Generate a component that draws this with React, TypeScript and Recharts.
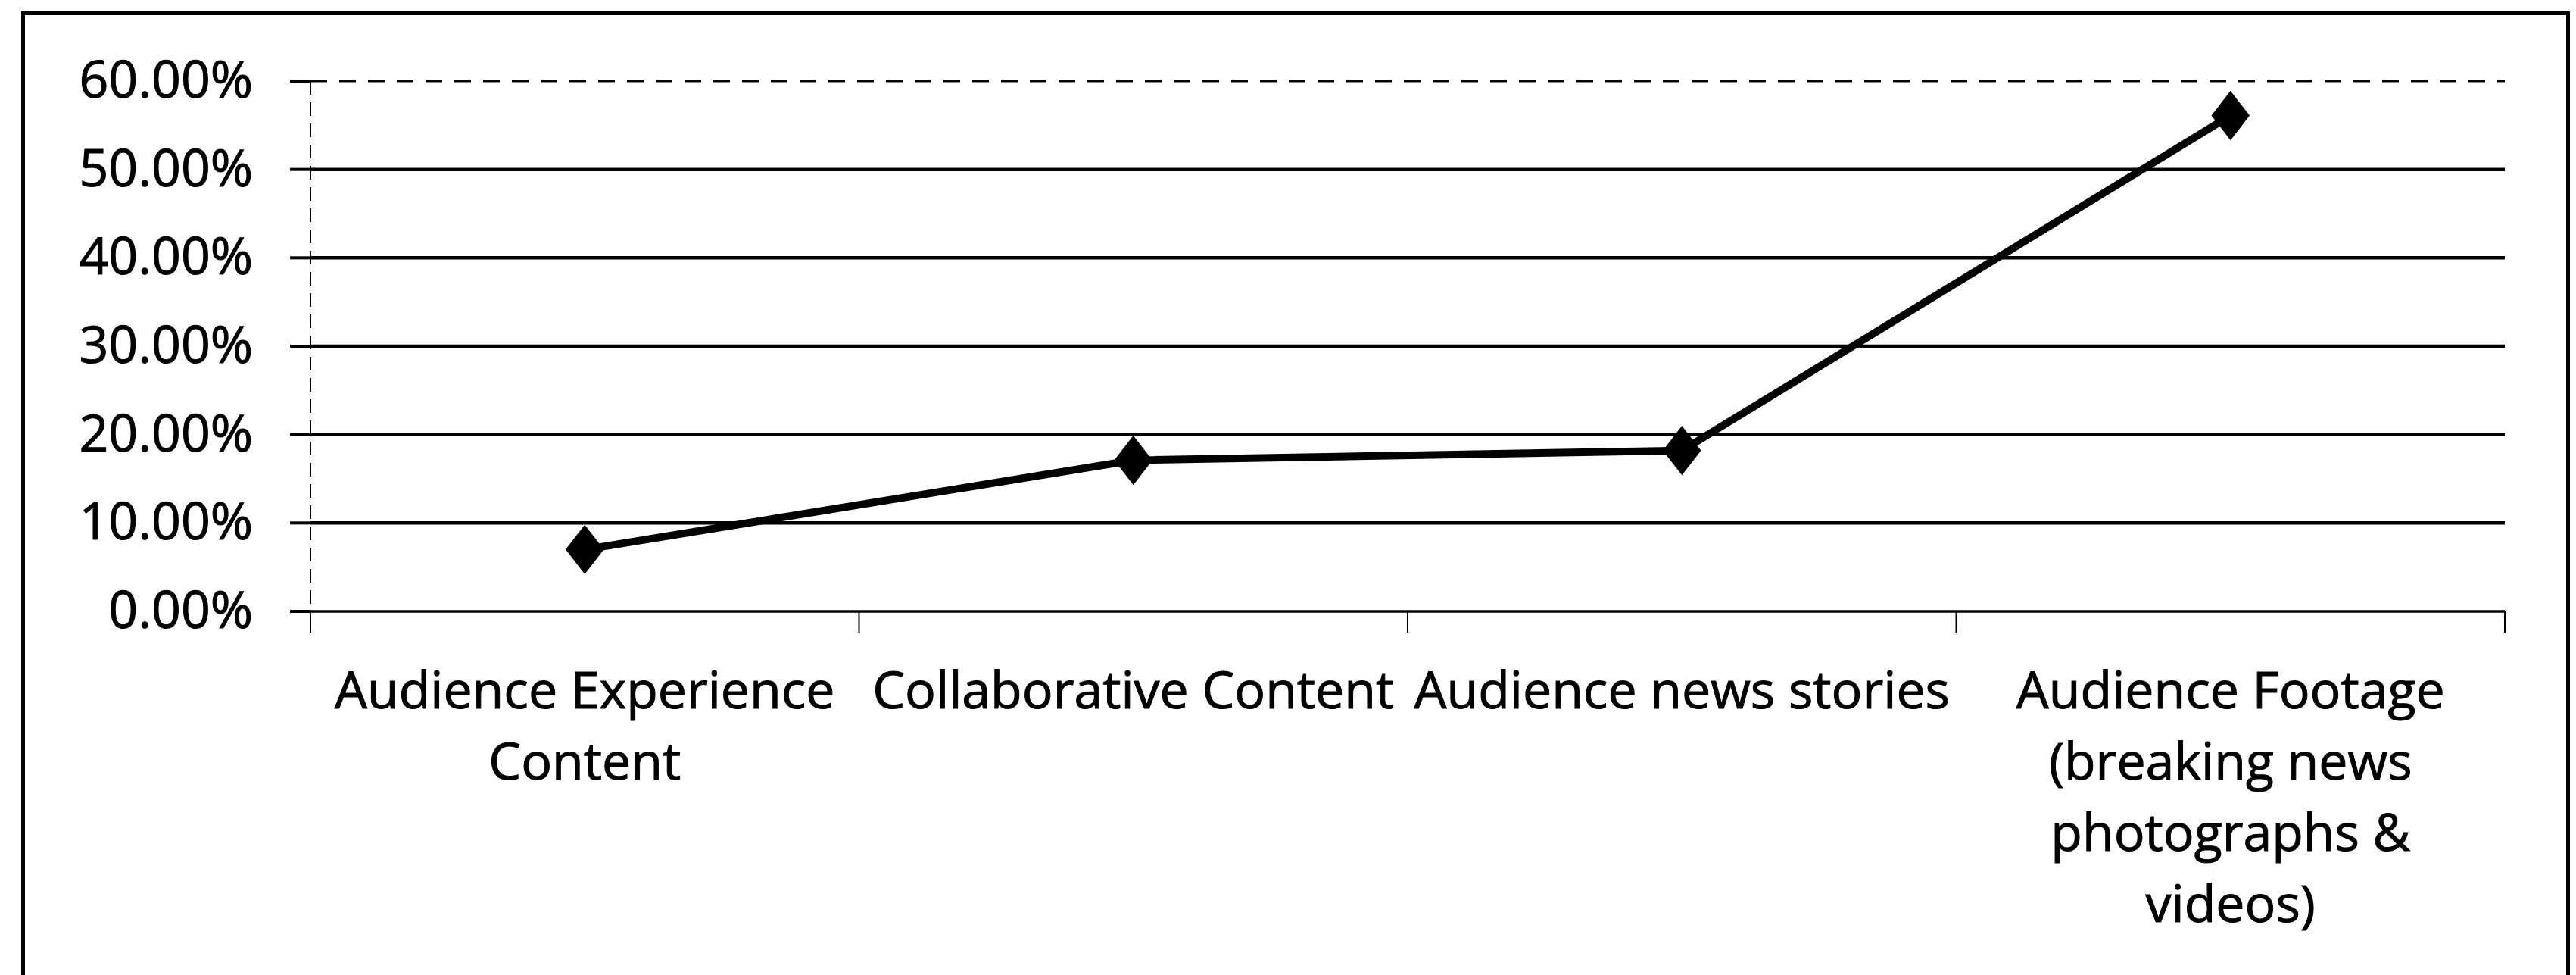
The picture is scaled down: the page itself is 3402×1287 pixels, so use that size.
import React from 'react';
import { LineChart, Line, XAxis, YAxis, CartesianGrid } from 'recharts';

// ---- data ----
const categories = [
  'Audience Experience Content',
  'Collaborative Content',
  'Audience news stories',
  'Audience Footage (breaking news photographs & videos)',
];
const shareValues = [0.07, 0.171, 0.182, 0.561];
const categoryLabelLines = [
  ['Audience Experience', 'Content'],
  ['Collaborative Content'],
  ['Audience news stories'],
  ['Audience Footage', '(breaking news', 'photographs &', 'videos)'],
];
const yTicks = [0, 0.1, 0.2, 0.3, 0.4, 0.5, 0.6];

const data = categories.map((c, i) => ({ category: c, value: shareValues[i] }));

// ---- layout / style ----
const W = 3402;
const H = 1287;
const PLOT_LEFT = 410;
const PLOT_RIGHT = 3308;
const PLOT_TOP = 107;
const PLOT_BOTTOM = 807;
const HALF_BAND = (PLOT_RIGHT - PLOT_LEFT) / 8;
const FONT = "'Open Sans', 'Noto Sans', sans-serif";
const FONT_SIZE = 68;
const LINE_H = 94;

const pct = (v: number) => (v * 100).toFixed(2) + '%';

const YTick = (props: any) => {
  const { x, y, payload } = props;
  return (
    <text
      x={x}
      y={y + 22}
      textAnchor="end"
      fontFamily={FONT}
      fontSize={FONT_SIZE}
      fill="#000"
      stroke="#000"
      strokeWidth={1}
    >
      {pct(payload.value)}
    </text>
  );
};

const XTick = (props: any) => {
  const { x, y, index } = props;
  const lines = categoryLabelLines[index] || [];
  const isLast = index === categories.length - 1;
  return (
    <g>
      <line x1={x - HALF_BAND} y1={y} x2={x - HALF_BAND} y2={y + 28} stroke="#000" strokeWidth={2} />
      {isLast && (
        <line x1={x + HALF_BAND} y1={y} x2={x + HALF_BAND} y2={y + 28} stroke="#000" strokeWidth={2} />
      )}
      <text
        x={x}
        y={y + 128}
        textAnchor="middle"
        fontFamily={FONT}
        fontSize={FONT_SIZE}
        fill="#000"
        stroke="#000"
        strokeWidth={1}
      >
        {lines.map((l, i) => (
          <tspan key={i} x={x} dy={i === 0 ? 0 : LINE_H}>
            {l}
          </tspan>
        ))}
      </text>
    </g>
  );
};

const Diamond = (props: any) => {
  const { cx, cy, index } = props;
  if (cx == null || cy == null) return <g key={index} />;
  const hw = 24;
  const hh = 31;
  return (
    <polygon
      key={index}
      points={`${cx},${cy - hh} ${cx + hw},${cy} ${cx},${cy + hh} ${cx - hw},${cy}`}
      fill="#000"
      stroke="#000"
      strokeWidth={2}
    />
  );
};

const GridLine = (p: any) => {
  const top = Math.abs(p.y1 - PLOT_TOP) < 2;
  const bottom = Math.abs(p.y1 - PLOT_BOTTOM) < 2;
  return (
    <line
      key={`gl-${p.index}`}
      x1={p.x1}
      y1={p.y1}
      x2={p.x2}
      y2={p.y2}
      stroke="#000"
      strokeWidth={top ? 3 : bottom ? 3 : 4.5}
      strokeDasharray={top ? '22 16' : undefined}
    />
  );
};

export default function App() {
  return (
    <div
      style={{
        position: 'absolute',
        left: 0,
        top: 0,
        width: W,
        height: H,
        background: '#fff',
        overflow: 'hidden',
      }}
    >
      <div
        style={{
          position: 'absolute',
          left: 28,
          top: 15,
          width: 3366,
          height: 1400,
          border: '5px solid #000',
          boxSizing: 'border-box',
        }}
      />
      <div style={{ position: 'absolute', left: 0, top: 0 }}>
        <LineChart
          width={W}
          height={H}
          data={data}
          margin={{ top: PLOT_TOP, right: W - PLOT_RIGHT, bottom: 0, left: 0 }}
        >
          <CartesianGrid vertical={false} horizontal={GridLine as any} />
          <XAxis
            dataKey="category"
            type="category"
            interval={0}
            height={H - PLOT_BOTTOM}
            padding={{ left: HALF_BAND, right: HALF_BAND }}
            axisLine={{ stroke: '#000', strokeWidth: 3 }}
            tickLine={false}
            tickSize={0}
            tickMargin={0}
            tick={<XTick />}
          />
          <YAxis
            type="number"
            domain={[0, 0.6]}
            ticks={yTicks}
            interval={0}
            width={PLOT_LEFT}
            axisLine={{ stroke: '#000', strokeWidth: 2, strokeDasharray: '18 10' }}
            tickLine={{ stroke: '#000', strokeWidth: 4 }}
            tickSize={27}
            tickMargin={49}
            tick={<YTick />}
          />
          <Line
            type="linear"
            dataKey="value"
            stroke="#000"
            strokeWidth={10}
            dot={Diamond}
            activeDot={false}
            isAnimationActive={false}
          />
        </LineChart>
      </div>
    </div>
  );
}
